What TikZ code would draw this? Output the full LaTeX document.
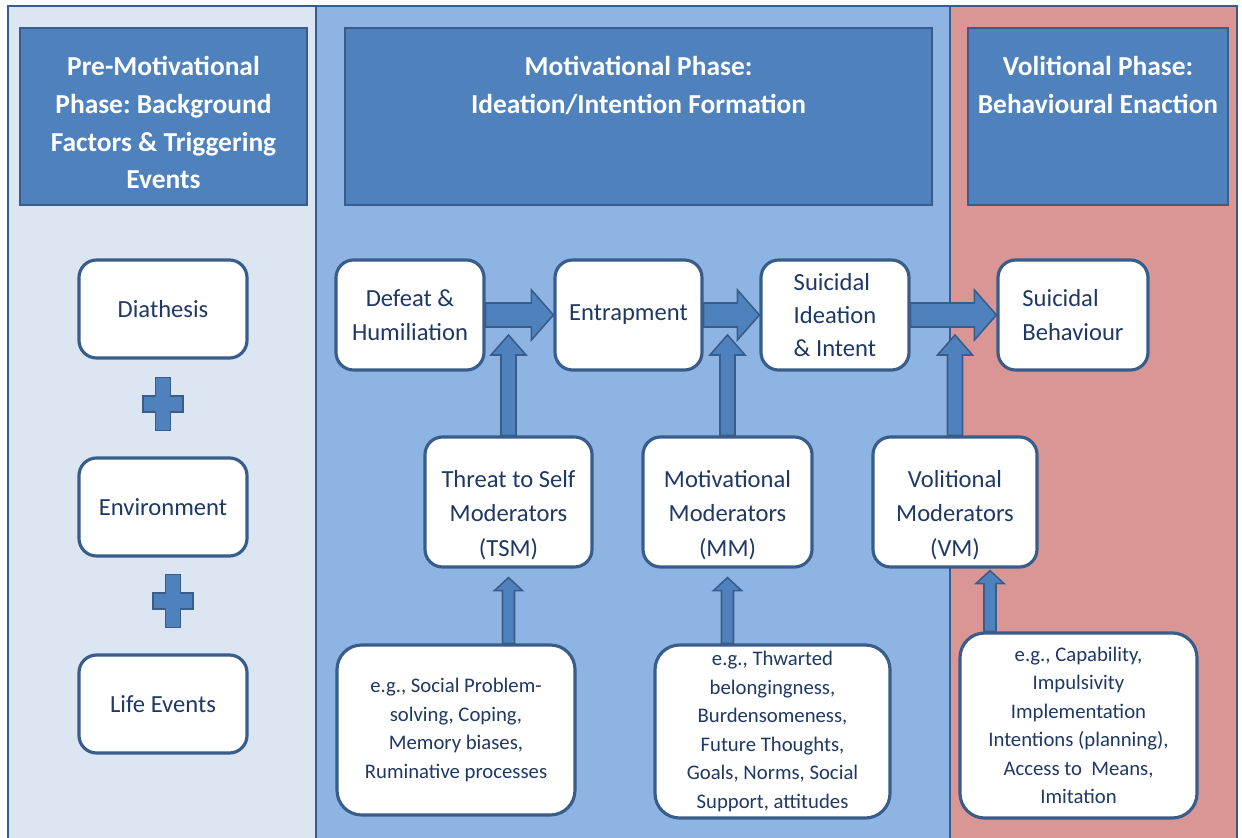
\documentclass[tikz,border=0pt]{standalone}
\usepackage{fontspec}
\setmainfont{Carlito}
\usetikzlibrary{calc, positioning}
\frenchspacing
\definecolor{panelleft}{HTML}{DCE6F2}
\definecolor{panelmid}{HTML}{8EB4E3}
\definecolor{panelright}{HTML}{D99694}
\definecolor{headfill}{HTML}{4F81BD}
\definecolor{edge}{HTML}{385D8A}
\definecolor{ink}{HTML}{1F3864}

\tikzset{
  panel/.style={draw=edge, line width=1.4pt},
  boxsize/.style 2 args={minimum width=#1*0.02cm, minimum height=#2*0.02cm},
  header/.style={draw=edge, line width=1.2pt, fill=headfill, inner sep=0pt},
  headtext/.style={text=white, font=\fontsize{15.6}{21.5}\selectfont\bfseries, align=center, inner sep=0pt},
  factor/.style={draw=edge, line width=1.8pt, fill=white, rounded corners=10pt, text=ink, font=\fontsize{14}{19}\selectfont, align=center, inner sep=2pt},
  modtext/.style={text=ink, font=\fontsize{14}{19.5}\selectfont, align=center, inner sep=0pt},
  example/.style={factor, rounded corners=14pt, font=\fontsize{11.8}{16.2}\selectfont},
  blockarrow/.style={draw=edge, line width=0.9pt, fill=headfill, line join=miter},
}

% right-pointing block arrow between two boxes
\newcommand\harrow[2]{%
  \draw[blockarrow] ($(#1.east)+(0,-12)$) -- ($(#2.west)+(-22,-12)$) -- ($(#2.west)+(-22,-25)$) -- (#2.west)
    -- ($(#2.west)+(-22,25)$) -- ($(#2.west)+(-22,12)$) -- ($(#1.east)+(0,12)$) -- cycle;}
% upward block arrow: base, tip, shaft half width, head half width, head length
\newcommand\varrow[5]{%
  \draw[blockarrow] ($(#1)+(-#3,0)$) -- ($(#2)+(-#3,#5)$) -- ($(#2)+(-#4,#5)$) -- (#2)
    -- ($(#2)+(#4,#5)$) -- ($(#2)+(#3,#5)$) -- ($(#1)+(#3,0)$) -- cycle;}
% plus sign between background factors
\newcommand\plusmark[1]{%
  \draw[blockarrow, shift={#1}] (-7.5,-26.5) -- (7.5,-26.5) -- (7.5,-8) -- (20,-8) -- (20,8) -- (7.5,8)
    -- (7.5,26.5) -- (-7.5,26.5) -- (-7.5,8) -- (-20,8) -- (-20,-8) -- (-7.5,-8) -- cycle;}

\begin{document}
\begin{tikzpicture}[x=0.02cm, y=-0.02cm]
    % page and phase panels
    \fill[white] (0,0) rectangle (1242,838);
    \useasboundingbox (0,0) rectangle (1242,838);
    \draw[panel, fill=panelleft] (8,6) rectangle (316,850);
    \draw[panel, fill=panelmid] (316,6) rectangle (950,850);
    \draw[panel, fill=panelright] (950,6) rectangle (1237,850);

    % phase headers
    \node[header, boxsize={287}{177}] (prehead) at (163.5,116.5) {};
    \node[headtext, anchor=north] (pretext) at ($(prehead.north)+(0,29)$) {Pre-Motivational\\Phase: Background\\Factors \& Triggering\\Events};
    \node[header, boxsize={587}{177}] (mothead) at (638.5,116.5) {};
    \node[headtext, anchor=north] (mottext) at ($(mothead.north)+(0,29)$) {Motivational Phase:\\Ideation/Intention Formation};
    \node[header, boxsize={260}{177}] (volhead) at (1098,116.5) {};
    \node[headtext, anchor=north] (voltext) at ($(volhead.north)+(0,29)$) {Volitional Phase:\\Behavioural Enaction};

    % background factors
    \node[factor, boxsize={168}{98}] (diath) at (163,309) {Diathesis};
    \node[factor, boxsize={168}{98}] (env) at (163,507) {Environment};
    \node[factor, boxsize={168}{98}] (life) at (163,704) {Life Events};
    \plusmark{(163,404)}
    \plusmark{(173,601)}

    % main pathway
    \node[factor, boxsize={148}{110}] (defeat) at (410,315) {Defeat \&\\Humiliation};
    \node[factor, boxsize={147}{110}] (entrap) at (628.5,315) {Entrapment};
    \node[factor, boxsize={148}{110}, align=left] (ideation) at (835,315) {Suicidal\\Ideation\\\& Intent};
    \node[factor, boxsize={150}{110}, align=left] (behav) at (1073,315) {Suicidal\\Behaviour};

    % moderators
    \node[factor, boxsize={167}{130}] (tsm) at (508.5,502) {};
    \node[modtext] (tsmtext) at ($(tsm)+(0,13)$) {Threat to Self\\Moderators\\(TSM)};
    \node[factor, boxsize={169}{130}] (mm) at (727.5,502) {};
    \node[modtext] (mmtext) at ($(mm)+(0,13)$) {Motivational\\Moderators\\(MM)};
    \node[factor, boxsize={164}{130}] (vm) at (955,502) {};
    \node[modtext] (vmtext) at ($(vm)+(0,13)$) {Volitional\\Moderators\\(VM)};

    % examples
    \node[example, boxsize={238}{170}] (tsmex) at (456,730) {e.g., Social Problem-\\solving, Coping,\\Memory biases,\\Ruminative processes};
    \node[example, boxsize={235}{173}] (mmex) at (772.5,731.5) {e.g., Thwarted\\belongingness,\\Burdensomeness,\\Future Thoughts,\\Goals, Norms, Social\\Support,\ attitudes};
    \node[example, boxsize={237}{185}] (vmex) at (1078.5,725.5) {e.g., Capability,\\Impulsivity\\Implementation\\Intentions (planning),\\Access to\ \ Means,\\Imitation};

    % flow arrows
    \harrow{defeat}{entrap}
    \harrow{entrap}{ideation}
    \harrow{ideation}{behav}

    % moderator arrows
    \coordinate (tsmtip) at ($(tsm.north |- defeat.east)+(0,20)$);
    \coordinate (mmtip) at ($(mm.north |- entrap.east)+(0,20)$);
    \coordinate (vmtip) at ($(vm.north |- ideation.east)+(0,20)$);
    \varrow{tsm.north}{tsmtip}{7.5}{17.5}{20}
    \varrow{mm.north}{mmtip}{7.5}{17.5}{20}
    \varrow{vm.north}{vmtip}{7.5}{17.5}{20}

    % example arrows
    \coordinate (tsmfoot) at ($(tsm.south)+(0,9)$);
    \coordinate (mmfoot) at ($(mm.south)+(0,9)$);
    \coordinate (vmfoot) at ($(vm.south)+(35,2)$);
    \coordinate (tsmbase) at (tsmfoot |- tsmex.north);
    \coordinate (mmbase) at (mmfoot |- mmex.north);
    \coordinate (vmbase) at (vmfoot |- vmex.north);
    \varrow{tsmbase}{tsmfoot}{6}{14}{13}
    \varrow{mmbase}{mmfoot}{6}{14}{13}
    \varrow{vmbase}{vmfoot}{6}{14}{13}
\end{tikzpicture}
\end{document}
